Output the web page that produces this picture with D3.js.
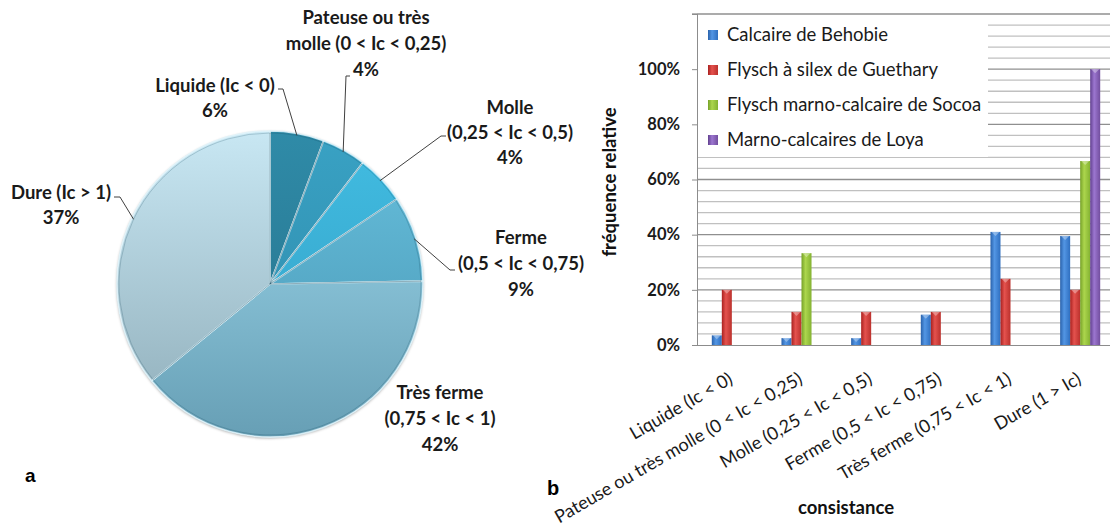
<!DOCTYPE html>
<html><head><meta charset="utf-8">
<script src="https://cdn.jsdelivr.net/npm/d3@7"></script>
<style>
html,body{margin:0;padding:0;background:#fff;}
svg{display:block;}
</style>
</head><body>
<svg id="chart" width="1110" height="526"></svg>
<script>
// ---------- DATA ----------
// Pie (a)
const pieCategories = ["Liquide", "Pateuse", "Molle", "Ferme", "Très ferme", "Dure"];
const pieShares = [5.7, 4.7, 5.2, 9.1, 39.4, 35.9];   // slice sizes as drawn
const pieLabelLines = [
  ["Liquide (Ic < 0)", "6%"],
  ["Pateuse ou très", "molle (0 < Ic < 0,25)", "4%"],
  ["Molle", "(0,25 < Ic < 0,5)", "4%"],
  ["Ferme", "(0,5 < Ic < 0,75)", "9%"],
  ["Très ferme", "(0,75 < Ic < 1)", "42%"],
  ["Dure (Ic > 1)", "37%"]
];
// Bar chart (b)
const barCategories = ["Liquide (Ic < 0)", "Pateuse ou très molle (0 < Ic < 0,25)", "Molle (0,25 < Ic < 0,5)",
  "Ferme (0,5 < Ic < 0,75)", "Très ferme (0,75 < Ic < 1)", "Dure (1 > Ic)"];
const seriesNames = ["Calcaire de Behobie", "Flysch à silex de Guethary", "Flysch marno-calcaire de Socoa", "Marno-calcaires de Loya"];
const behobie  = [0.035, 0.025, 0.025, 0.11, 0.41, 0.395];
const guethary = [0.20, 0.12, 0.12, 0.12, 0.24, 0.20];
const socoa    = [0, 0.333, 0, 0, 0, 0.667];
const loya     = [0, 0, 0, 0, 0, 1.0];
const yTickValues = [0, 0.2, 0.4, 0.6, 0.8, 1.0];

// ---------- STYLE / LAYOUT ----------
const svg = d3.select("#chart");
const defs = svg.append("defs");
const FONT = "Lato, 'Open Sans', sans-serif";

const pieColors = [
  ["#2f8ba8", "#256f88"],
  ["#39a2c4", "#2d86a6"],
  ["#42bde2", "#319cc2"],
  ["#68c1de", "#4693b1"],
  ["#a0dbef", "#679fb5"],
  ["#c8e7f3", "#8eacb8"]
];
const pcx = 270, pcy = 284, pr = 153;

pieColors.forEach((c, i) => {
  const g = defs.append("linearGradient").attr("id", "pg" + i)
    .attr("gradientUnits", "userSpaceOnUse")
    .attr("x1", 0).attr("y1", -pr).attr("x2", 0).attr("y2", pr);
  g.append("stop").attr("offset", "0%").attr("stop-color", c[0]);
  g.append("stop").attr("offset", "100%").attr("stop-color", c[1]);
});
const f = defs.append("filter").attr("id", "shadow").attr("x", "-10%").attr("y", "-10%").attr("width", "120%").attr("height", "120%");
f.append("feDropShadow").attr("dx", 0).attr("dy", 1).attr("stdDeviation", 1.5).attr("flood-color", "#000").attr("flood-opacity", 0.4);

const pie = d3.pie().sort(null).value(d => d);
const arcs = pie(pieShares);
const arc = d3.arc().innerRadius(0).outerRadius(pr);
const pieG = svg.append("g").attr("transform", `translate(${pcx},${pcy})`);
pieG.append("circle").attr("r", pr).attr("fill", "#fff").attr("filter", "url(#shadow)");
pieG.selectAll("path.slice").data(arcs).join("path")
  .attr("class", "slice")
  .attr("d", arc)
  .attr("fill", (d, i) => `url(#pg${i})`)
  .attr("stroke", "#dff3fa").attr("stroke-opacity", 0.85).attr("stroke-width", 1.6)
  .attr("stroke-linejoin", "round");
pieG.selectAll("path.bevel").data(arcs).join("path")
  .attr("class", "bevel")
  .attr("d", d3.arc().innerRadius(0).outerRadius(pr - 2))
  .attr("fill", "none").attr("stroke", "#0b3d50").attr("stroke-opacity", 0.2).attr("stroke-width", 1);

const pieLabelLayout = [
  {x: 215, y: 92, lh: 25, elbow: [[278, 89], [283, 89]]},
  {x: 366, y: 24, lh: 26, elbow: [[350, 76], [346, 76]]},
  {x: 510, y: 114, lh: 25, elbow: [[446, 136], [441, 136]]},
  {x: 521, y: 244, lh: 26, elbow: [[455, 270], [450, 270]]},
  {x: 440, y: 399, lh: 26, elbow: null},
  {x: 61, y: 199, lh: 25, elbow: [[114, 197], [120, 197]]}
];
const leaderArc = d3.arc().innerRadius(pr - 2).outerRadius(pr - 2);
arcs.forEach((a, i) => {
  const L = pieLabelLayout[i];
  if (L.elbow) {
    const c = leaderArc.centroid(a);
    const pts = [L.elbow[0], L.elbow[1], [pcx + c[0], pcy + c[1]]];
    svg.append("path").attr("d", d3.line()(pts)).attr("fill", "none")
      .attr("stroke", "#404040").attr("stroke-width", 1);
  }
  const t = svg.append("text").attr("font-family", FONT).attr("font-weight", 700)
    .attr("font-size", 18.5).attr("fill", "#1a1a1a").attr("text-anchor", "middle");
  pieLabelLines[i].forEach((line, j) => {
    t.append("tspan").attr("x", L.x).attr("y", L.y + j * L.lh).text(line);
  });
});

svg.append("text").attr("x", 25).attr("y", 482).attr("font-family", "'Liberation Sans', Arial, sans-serif")
  .attr("font-weight", 700).attr("font-size", 19).text("a");
svg.append("text").attr("x", 547).attr("y", 495).attr("font-family", "'Liberation Sans', Arial, sans-serif")
  .attr("font-weight", 700).attr("font-size", 20).text("b");

// ---------- BAR CHART ----------
const pLeft = 697, pRight = 1115, pTop = 14, pBottom = 345;
const y = d3.scaleLinear().domain([0, 1.2]).range([pBottom, pTop]);
const x0 = d3.scaleBand().domain(barCategories).range([pLeft, pRight]).paddingInner(0.425).paddingOuter(0.2125);
const x1 = d3.scaleBand().domain(seriesNames).range([0, x0.bandwidth()]);
const seriesData = [behobie, guethary, socoa, loya];
const barColors = [
  ["#2a62ab", "#5396e4", "#2f6fc0"],
  ["#a9211f", "#e4524e", "#bb312d"],
  ["#76a128", "#acd64d", "#84b232"],
  ["#61408e", "#9c76d0", "#724e9e"]
];
barColors.forEach((c, i) => {
  const g = defs.append("linearGradient").attr("id", "bg" + i).attr("x1", 0).attr("x2", 1).attr("y1", 0).attr("y2", 0);
  g.append("stop").attr("offset", "0%").attr("stop-color", c[0]);
  g.append("stop").attr("offset", "40%").attr("stop-color", c[1]);
  g.append("stop").attr("offset", "100%").attr("stop-color", c[2]);
});

const plot = svg.append("g");
const minor = d3.range(1, 30).map(k => k * 0.04).filter((v, k) => (k + 1) % 5 !== 0);
plot.selectAll("line.minor").data(minor).join("line")
  .attr("class", "minor")
  .attr("x1", pLeft).attr("x2", pRight).attr("y1", d => y(d)).attr("y2", d => y(d))
  .attr("stroke", "#c0c0c0").attr("stroke-width", 1.3);
const major = [0.2, 0.4, 0.6, 0.8, 1.0, 1.2];
plot.selectAll("line.major").data(major).join("line")
  .attr("class", "major")
  .attr("x1", pLeft).attr("x2", pRight).attr("y1", d => y(d)).attr("y2", d => y(d))
  .attr("stroke", "#8f8f8f").attr("stroke-width", 1.3);

const lg = svg.append("g");
lg.append("rect").attr("x", pLeft + 1).attr("y", pTop + 1).attr("width", 290).attr("height", 142).attr("fill", "#fff");

const barG = svg.append("g");
seriesData.forEach((vals, si) => {
  const dd = vals.map((v, ci) => ({v, c: barCategories[ci]})).filter(d => d.v > 0);
  barG.selectAll(null).data(dd).join("rect")
    .attr("x", d => x0(d.c) + x1(seriesNames[si]))
    .attr("y", d => y(d.v))
    .attr("width", x1.bandwidth())
    .attr("height", d => y(0) - y(d.v))
    .attr("fill", `url(#bg${si})`);
  barG.selectAll(null).data(dd).join("path")
    .attr("d", d => {
      const bx = x0(d.c) + x1(seriesNames[si]), w = x1.bandwidth(), by = y(d.v);
      return `M${bx + 1},${by}L${bx + w - 1},${by}L${bx + w / 2},${by + 4}Z`;
    })
    .attr("fill", "#fff").attr("fill-opacity", 0.35);
});

const yAxis = d3.axisLeft(y).tickValues(yTickValues).tickFormat(d3.format(".0%")).tickSize(5).tickPadding(12);
const yg = svg.append("g").attr("transform", `translate(${pLeft},0)`).call(yAxis);
yg.select(".domain").attr("stroke", "#8c8c8c");
yg.selectAll(".tick line").attr("stroke", "#8c8c8c");
yg.selectAll("text").attr("font-family", FONT).attr("font-weight", 700).attr("font-size", 16.5).attr("fill", "#1a1a1a");
svg.append("line").attr("x1", pLeft + 0.5).attr("x2", pLeft + 0.5).attr("y1", pTop).attr("y2", pBottom).attr("stroke", "#8c8c8c");
svg.append("line").attr("x1", pLeft - 5).attr("x2", pLeft).attr("y1", y(1.2)).attr("y2", y(1.2)).attr("stroke", "#8f8f8f").attr("stroke-width", 1.3);

const xAxis = d3.axisBottom(x0).tickSize(0).tickPadding(0);
const xg = svg.append("g").attr("transform", `translate(0,${pBottom})`).call(xAxis);
xg.select(".domain").attr("stroke", "#8c8c8c").attr("d", `M${pLeft},0.5H${pRight}`);
xg.selectAll(".tick text")
  .attr("font-family", FONT).attr("font-size", 18).attr("fill", "#1a1a1a")
  .attr("text-anchor", "end")
  .attr("transform", "translate(-1,32) rotate(-30)")
  .attr("dy", "0.35em").attr("y", 0);

svg.append("text").attr("transform", `translate(616,182) rotate(-90)`).attr("text-anchor", "middle")
  .attr("font-family", FONT).attr("font-weight", 700).attr("font-size", 18.5).attr("fill", "#111").text("fréquence relative");
svg.append("text").attr("x", 846).attr("y", 514).attr("text-anchor", "middle")
  .attr("font-family", FONT).attr("font-weight", 700).attr("font-size", 18.5).attr("fill", "#111").text("consistance");

seriesNames.forEach((name, i) => {
  const ly = 35 + i * 35;
  lg.append("rect").attr("x", 708).attr("y", ly - 5).attr("width", 10).attr("height", 10)
    .attr("fill", `url(#bg${i})`);
  lg.append("text").attr("x", 727).attr("y", ly).attr("dy", "0.35em")
    .attr("font-family", FONT).attr("font-size", 18.5).attr("fill", "#1a1a1a").text(name);
});
</script>
</body></html>
